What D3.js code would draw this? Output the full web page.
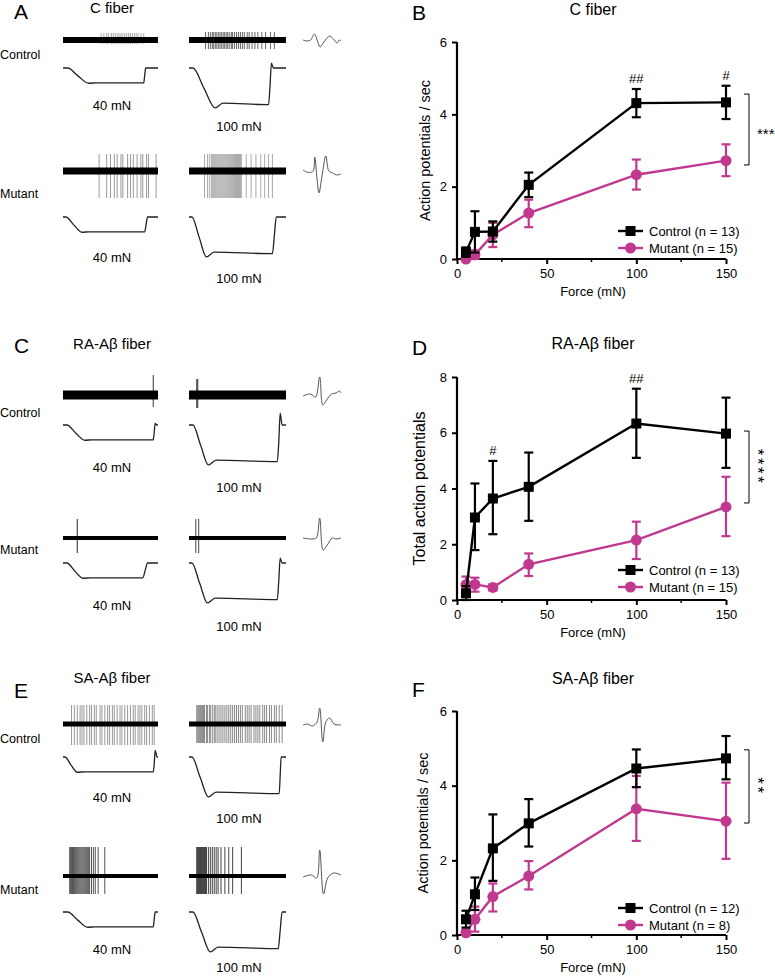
<!DOCTYPE html>
<html><head><meta charset="utf-8">
<script src="https://cdn.jsdelivr.net/npm/d3@7"></script>
<style>body{margin:0;background:#fff} svg{display:block;font-family:"Liberation Sans",Arial,Helvetica,sans-serif}</style>
</head><body><svg id="fig" width="775" height="976"></svg>
<script>
// ================= DATA: force-response curves =================
const forces = [5, 10, 20, 40, 100, 150];
const xTicks = [0, 50, 100, 150];
const xMinorTicks = [25, 75, 125];

// C fiber (action potentials / sec)
const cYTicks = [0, 2, 4, 6];
const cCtrlMean = [0.19, 0.75, 0.76, 2.05, 4.31, 4.33];
const cCtrlHi   = [0.32, 1.32, 1.04, 2.39, 4.70, 4.79];
const cCtrlLo   = [0.06, 0.18, 0.48, 1.71, 3.92, 3.87];
const cMutMean  = [0.00, 0.12, 0.67, 1.27, 2.33, 2.72];
const cMutHi    = [0.05, 0.24, 1.00, 1.64, 2.75, 3.17];
const cMutLo    = [0.00, 0.00, 0.33, 0.88, 1.92, 2.29];

// RA-Abeta fiber (total action potentials)
const raYTicks = [0, 2, 4, 6, 8];
const raCtrlMean = [0.24, 2.96, 3.64, 4.06, 6.33, 5.97];
const raCtrlHi   = [0.50, 4.18, 4.99, 5.29, 7.58, 7.26];
const raCtrlLo   = [0.00, 1.79, 2.36, 2.84, 5.10, 4.74];
const raMutMean  = [0.55, 0.56, 0.45, 1.28, 2.15, 3.34];
const raMutHi    = [0.84, 0.80, 0.56, 1.67, 2.81, 4.42];
const raMutLo    = [0.26, 0.30, 0.34, 0.86, 1.47, 2.29];

// SA-Abeta fiber (action potentials / sec)
const saYTicks = [0, 2, 4, 6];
const saCtrlMean = [0.42, 1.09, 2.32, 2.99, 4.46, 4.73];
const saCtrlHi   = [0.65, 1.54, 3.23, 3.64, 4.97, 5.33];
const saCtrlLo   = [0.20, 0.67, 1.45, 2.37, 3.96, 4.17];
const saMutMean  = [0.06, 0.42, 1.03, 1.58, 3.38, 3.05];
const saMutHi    = [0.15, 0.76, 1.38, 1.98, 4.26, 4.08];
const saMutLo    = [0.00, 0.09, 0.63, 1.22, 2.52, 2.04];

const legendCtrl = ["Control (n = 13)", "Control (n = 13)", "Control (n = 12)"];
const legendMut  = ["Mutant (n = 15)", "Mutant (n = 15)", "Mutant (n = 8)"];
const sigStars   = ["***", "****", "**"];
const sigBracket = [[2.60, 4.56], [3.48, 6.06], [3.00, 4.96]];
// hash marks: [force index, label]
const hashB = [[4, "##"], [5, "#"]];
const hashD = [[2, "#"], [4, "##"]];
const hashF = [];

// ================= DATA: example recordings =================
const stimLabels = ["40 mN", "100 mN"];
// spike positions as fraction of the recording window
const spkACtrl40  = [0.40,0.43,0.46,0.48,0.51,0.53,0.55,0.57,0.59,0.61,0.63,0.65,0.67,0.69,0.71,0.73,0.75,0.77,0.79,0.82,0.85];
const spkACtrl100 = [0.17,0.20,0.22,0.24,0.25,0.27,0.28,0.30,0.31,0.33,0.34,0.36,0.37,0.39,0.40,0.42,0.44,0.45,0.47,0.49,0.51,0.53,0.55,0.57,0.60,0.62,0.65,0.68,0.71,0.75,0.79,0.84,0.88];
const spkAMut40   = [0.38,0.46,0.50,0.54,0.57,0.61,0.63,0.68,0.71,0.74,0.78,0.82,0.84,0.88,0.90,0.98];
const spkAMut100  = [0.16,0.19,0.21,0.23,0.24,0.25,0.26,0.27,0.28,0.29,0.30,0.31,0.32,0.33,0.34,0.35,0.36,0.37,0.38,0.39,0.40,0.41,0.42,0.43,0.44,0.45,0.46,0.47,0.48,0.49,0.50,0.51,0.52,0.53,0.54,0.59,0.64,0.69,0.74,0.78,0.82,0.86];
const spkCCtrl40  = [0.95];
const spkCCtrl100 = [0.08, 0.09];
const spkCMut40   = [0.15];
const spkCMut100  = [0.07, 0.10];
const spkECtrl40  = [0.09,0.12,0.15,0.18,0.20,0.22,0.25,0.28,0.30,0.33,0.35,0.39,0.41,0.44,0.47,0.49,0.52,0.54,0.57,0.60,0.62,0.65,0.68,0.71,0.74,0.76,0.79,0.81,0.83,0.86,0.88,0.91,0.94,0.96];
const spkECtrl100 = [0.08,0.09,0.10,0.11,0.12,0.13,0.14,0.15,0.16,0.18,0.19,0.21,0.22,0.24,0.26,0.27,0.29,0.31,0.33,0.35,0.37,0.39,0.41,0.43,0.45,0.47,0.49,0.51,0.53,0.55,0.58,0.60,0.62,0.64,0.67,0.69,0.71,0.73,0.76,0.78,0.80,0.83,0.85,0.88,0.90,0.93,0.96];
const spkEMut40   = [0.07,0.08,0.09,0.10,0.11,0.12,0.13,0.14,0.15,0.16,0.17,0.18,0.19,0.20,0.21,0.22,0.23,0.24,0.25,0.26,0.27,0.28,0.30,0.32,0.34,0.37,0.44];
const spkEMut100  = [0.080,0.085,0.090,0.095,0.100,0.105,0.110,0.115,0.120,0.125,0.130,0.135,0.140,0.150,0.160,0.170,0.180,0.200,0.220,0.240,0.260,0.280,0.300,0.330,0.370,0.410,0.450,0.540];
// stimulus timing per recording: [ramp start, ramp end, release start, release end, overshoot mN]
const stimA = [[0.05,0.27,0.85,0.87,0],[0.04,0.27,0.82,0.85,13],[0.03,0.20,0.86,0.89,0],[0.03,0.18,0.86,0.90,0]];
const stimC = [[0.04,0.23,0.95,0.97,4],[0.04,0.20,0.91,0.94,32],[0.04,0.21,0.84,0.89,0],[0.03,0.19,0.91,0.94,13]];
const stimE = [[0.02,0.15,0.95,0.97,18],[0.03,0.20,0.93,0.95,0],[0.05,0.26,0.95,0.97,0],[0.04,0.22,0.92,0.96,0]];
const stimForce = [40, 100];
// averaged spike waveforms: [fraction of width, offset px]
const waveACtrl = [[0,0],[0.12,1],[0.2,0],[0.3,-6],[0.38,1],[0.45,7],[0.55,2],[0.7,-4],[0.82,0],[0.9,3],[0.95,0],[1,1]];
const waveAMut  = [[0,-1],[0.1,1],[0.18,1.5],[0.27,0],[0.31,-14],[0.37,8],[0.42,22],[0.5,5],[0.6,-15],[0.68,0],[0.78,2],[0.88,4],[1,3]];
const waveCCtrl = [[0,1],[0.2,-1],[0.33,2],[0.44,-18],[0.52,10],[0.62,5],[0.75,-1],[0.87,-2],[0.96,-4],[1,-2]];
const waveCMut  = [[0,0],[0.23,1],[0.35,0],[0.44,-20],[0.53,12],[0.64,7],[0.77,0],[0.86,1],[1,0]];
const waveECtrl = [[0,1],[0.12,0],[0.25,2],[0.37,-2],[0.44,-16],[0.52,18],[0.6,-2],[0.7,-6],[0.82,0],[1,1]];
const waveEMut  = [[0,1],[0.22,-1],[0.36,2],[0.44,-26],[0.54,18],[0.65,2],[0.8,-3],[1,-1]];

// ================= DRAWING =================
const svg = d3.select("#fig");
const MAG = "#c0398f";

function txt(x, y, s, size, anchor, extra) {
  const t = svg.append("text").attr("x", x).attr("y", y).text(s)
    .attr("font-size", size).attr("text-anchor", anchor || "start").attr("fill", "#000");
  if (extra) extra(t);
  return t;
}

function marker(g, cx, cy, color, shape, k) {
  if (shape === "square") g.append("rect").attr("x", cx - 5 * k).attr("y", cy - 5 * k)
    .attr("width", 10 * k).attr("height", 10 * k).attr("fill", color);
  else g.append("circle").attr("cx", cx).attr("cy", cy).attr("r", 5.5 * k).attr("fill", color);
}

// ---------- Right column: force-response plots ----------
function responsePlot(p) {
  const x = d3.scaleLinear().domain([0, 150]).range([457, 726]);
  const y = d3.scaleLinear().domain([0, p.ymax]).range([p.y0, p.y1]);
  const g = svg.append("g");

  const ax = g.append("g").attr("transform", `translate(0,${p.y0})`)
    .call(d3.axisBottom(x).tickValues(xTicks).tickFormat(d3.format("d")).tickSize(5).tickPadding(5).tickSizeOuter(0));
  g.append("g").selectAll("line").data(xMinorTicks).join("line")
    .attr("x1", d => x(d)).attr("x2", d => x(d)).attr("y1", p.y0).attr("y2", p.y0 + 3)
    .attr("stroke", "#000").attr("stroke-width", 1.5);
  const ay = g.append("g").attr("transform", `translate(${x(0)},0)`)
    .call(d3.axisLeft(y).tickValues(p.yTicks).tickFormat(d3.format("d")).tickSize(5).tickPadding(5).tickSizeOuter(0));
  [ax, ay].forEach(a => {
    a.select(".domain").attr("stroke-width", 2.2).attr("stroke", "#000");
    a.selectAll(".tick line").attr("stroke-width", 2).attr("stroke", "#000");
    a.selectAll(".tick text").attr("font-size", 13).attr("fill", "#000")
      .attr("font-family", '"Liberation Sans",Arial,sans-serif');
  });
  ay.select(".domain").attr("d", `M0,${p.y0 + 1}V${p.y1}`);
  ax.select(".domain").attr("d", `M${x(0) - 1},0H${x(150)}`);

  function series(mean, hi, lo, color, shape) {
    const sg = g.append("g");
    forces.forEach((f, i) => {
      sg.append("line").attr("x1", x(f)).attr("x2", x(f)).attr("y1", y(lo[i])).attr("y2", y(hi[i]))
        .attr("stroke", color).attr("stroke-width", 2.2);
      [hi[i], lo[i]].forEach(v => sg.append("line").attr("x1", x(f) - 4.5).attr("x2", x(f) + 4.5)
        .attr("y1", y(v)).attr("y2", y(v)).attr("stroke", color).attr("stroke-width", 2.2));
    });
    sg.append("path").attr("d", d3.line()(forces.map((f, i) => [x(f), y(mean[i])])))
      .attr("fill", "none").attr("stroke", color).attr("stroke-width", 2.4);
    forces.forEach((f, i) => marker(sg, x(f), y(mean[i]), color, shape, 1));
  }
  series(p.mut[0], p.mut[1], p.mut[2], MAG, "circle");
  series(p.ctrl[0], p.ctrl[1], p.ctrl[2], "#000", "square");

  // hash marks
  p.hash.forEach(([i, s]) => txt(x(forces[i]), y(p.ctrl[1][i]) - 6, s, 13, "middle"));

  // legend
  [[p.legC, "#000", "square", p.legY], [p.legM, MAG, "circle", p.legY + 17]].forEach(([s, c, sh, ly]) => {
    g.append("line").attr("x1", 618).attr("x2", 643).attr("y1", ly).attr("y2", ly)
      .attr("stroke", c).attr("stroke-width", 2.4);
    marker(g, 630.5, ly, c, sh, 1);
    txt(649, ly + 4.6, s, 13, "start");
  });

  // significance bracket
  const [b0, b1] = p.bracket;
  g.append("path").attr("d", `M744,${y(b1)}H749V${y(b0)}H744`).attr("fill", "none")
    .attr("stroke", "#000").attr("stroke-width", 1);
  if (p.starsVertical) {
    const cy = (y(b0) + y(b1)) / 2;
    txt(0, 0, p.stars, 17, "middle", t => t.attr("transform", `translate(752,${cy}) rotate(90)`)
      .attr("letter-spacing", 2.5));
  } else {
    txt(757, (y(b0) + y(b1)) / 2 + 9, p.stars, 15, "start");
  }

  // titles & labels
  txt(593, p.titleY, p.title, 16, "middle");
  txt(412, p.letterY, p.letter, 21, "start");
  txt(593, p.y0 + 37, "Force (mN)", 13, "middle");
  txt(0, 0, p.ylabel, p.ylabelSize, "middle",
    t => t.attr("transform", `translate(${p.ylabelX},${(p.y0 + p.y1) / 2}) rotate(-90)`));
}

responsePlot({ y0: 259, y1: 42, ymax: 6, yTicks: cYTicks,
  ctrl: [cCtrlMean, cCtrlHi, cCtrlLo], mut: [cMutMean, cMutHi, cMutLo], hash: hashB,
  legC: legendCtrl[0], legM: legendMut[0], legY: 231, bracket: sigBracket[0], stars: sigStars[0],
  starsVertical: false, title: "C fiber", titleY: 15, letter: "B", letterY: 20,
  ylabel: "Action potentials / sec", ylabelSize: 14.5, ylabelX: 430 });
responsePlot({ y0: 600, y1: 377, ymax: 8, yTicks: raYTicks,
  ctrl: [raCtrlMean, raCtrlHi, raCtrlLo], mut: [raMutMean, raMutHi, raMutLo], hash: hashD,
  legC: legendCtrl[1], legM: legendMut[1], legY: 570, bracket: sigBracket[1], stars: sigStars[1],
  starsVertical: true, title: "RA-A\u03b2 fiber", titleY: 349, letter: "D", letterY: 355,
  ylabel: "Total action potentials", ylabelSize: 16, ylabelX: 425 });
responsePlot({ y0: 935, y1: 711, ymax: 6, yTicks: saYTicks,
  ctrl: [saCtrlMean, saCtrlHi, saCtrlLo], mut: [saMutMean, saMutHi, saMutLo], hash: hashF,
  legC: legendCtrl[2], legM: legendMut[2], legY: 908, bracket: sigBracket[2], stars: sigStars[2],
  starsVertical: true, title: "SA-A\u03b2 fiber", titleY: 684, letter: "F", letterY: 697,
  ylabel: "Action potentials / sec", ylabelSize: 14.5, ylabelX: 428 });

// ---------- Left column: example recordings ----------
const winX = [[63, 158], [189, 286]];
function spikeRow(win, yc, band, spikes, up, down, color) {
  const t = d3.scaleLinear().domain([0, 1]).range(win);
  const g = svg.append("g");
  g.selectAll("line.s").data(spikes).join("line").attr("class", "s")
    .attr("x1", d => t(d)).attr("x2", d => t(d)).attr("y1", yc - up).attr("y2", yc + down)
    .attr("stroke", color).attr("stroke-width", 1);
  g.append("line").attr("x1", t(0)).attr("x2", t(1)).attr("y1", yc).attr("y2", yc)
    .attr("stroke", "#000").attr("stroke-width", band);
}
function forceTrace(win, yb, force, st) {
  const t = d3.scaleLinear().domain([0, 1]).range(win);
  const f = d3.scaleLinear().domain([0, 100]).range([yb, yb + 37]);
  const [a, b, c, d, over] = st;
  const big = force > 50;
  const pts = [[0, 0], [a, 0], [(a + b) / 2, force * 0.55], [b, force * (big ? 1.08 : 1.03)],
    [b + 0.08, force * (big ? 0.95 : 1.0)], [c, force * (big ? 0.99 : 1.0)],
    [(c + d) / 2, force * 0.5], [d, -over], [Math.min(d + 0.02, 0.995), 0], [1, 0]];
  svg.append("path").attr("d", d3.line().x(p => t(p[0])).y(p => f(p[1])).curve(d3.curveMonotoneX)(pts))
    .attr("fill", "none").attr("stroke", "#222").attr("stroke-width", 1.3);
}
function waveform(yc, pts) {
  const t = d3.scaleLinear().domain([0, 1]).range([303, 341]);
  svg.append("path").attr("d", d3.line().x(p => t(p[0])).y(p => yc + p[1]).curve(d3.curveCatmullRom)(pts))
    .attr("fill", "none").attr("stroke", "#555").attr("stroke-width", 1);
}

const leftPanels = [
  { letter: "A", title: "C fiber", letterY: 19, titleY: 13, ctrlY: 59, mutY: 198,
    rows: [{ sy: 40, fy: 68, ly: [110, 131], band: 6, spk: [spkACtrl40, spkACtrl100], up: [7, 8], dn: [4, 9], col: ["#aaa", "#666"], wave: waveACtrl },
           { sy: 171, fy: 217, ly: [262, 283], band: 7, spk: [spkAMut40, spkAMut100], up: [17, 17], dn: [27, 27], col: ["#999", "#aaa"], wave: waveAMut }],
    stim: stimA },
  { letter: "C", title: "RA-A\u03b2 fiber", letterY: 353, titleY: 349, ctrlY: 417, mutY: 554,
    rows: [{ sy: 395, fy: 425, ly: [472, 492], band: 9, spk: [spkCCtrl40, spkCCtrl100], up: [20, 16], dn: [12, 13], col: ["#333", "#333"], wave: waveCCtrl },
           { sy: 538, fy: 563, ly: [610, 631], band: 4, spk: [spkCMut40, spkCMut100], up: [19, 19], dn: [15, 15], col: ["#222", "#444"], wave: waveCMut }],
    stim: stimC },
  { letter: "E", title: "SA-A\u03b2 fiber", letterY: 698, titleY: 683, ctrlY: 743, mutY: 894,
    rows: [{ sy: 724, fy: 757, ly: [802, 823], band: 5, spk: [spkECtrl40, spkECtrl100], up: [19, 19], dn: [21, 19], col: ["#999", "#888"], wave: waveECtrl },
           { sy: 876, fy: 912, ly: [954, 972], band: 4, spk: [spkEMut40, spkEMut100], up: [29, 29], dn: [18, 18], col: ["#555", "#444"], wave: waveEMut }],
    stim: stimE }
];

leftPanels.forEach(P => {
  txt(14, P.letterY, P.letter, 21, "start");
  txt(112, P.titleY, P.title, 15, "middle");
  txt(0, P.ctrlY, "Control", 12.5, "start");
  txt(0, P.mutY, "Mutant", 12.5, "start");
  P.rows.forEach((R, ri) => {
    [0, 1].forEach(k => {
      spikeRow(winX[k], R.sy, R.band, R.spk[k], R.up[k], R.dn[k], R.col[k]);
      forceTrace(winX[k], R.fy, stimForce[k], P.stim[ri * 2 + k]);
      txt(k === 0 ? 112 : 239, R.ly[k], stimLabels[k], 13, "middle");
    });
    waveform(R.sy, R.wave);
  });
});
</script></body></html>
